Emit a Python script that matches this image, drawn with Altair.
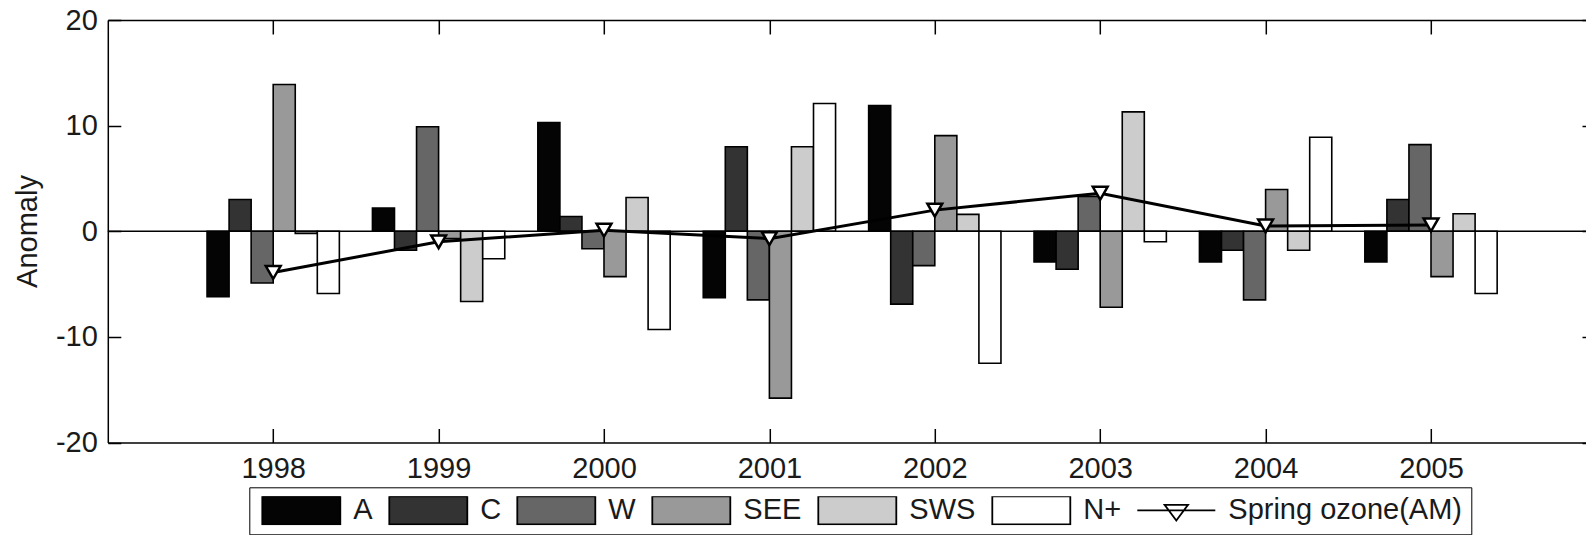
import altair as alt
import pandas as pd

# ---------------- data ----------------
years = [1998, 1999, 2000, 2001, 2002, 2003, 2004, 2005]
series_names = ["A", "C", "W", "SEE", "SWS", "N+"]
A_vals = [-6.2, 2.2, 10.3, -6.3, 11.9, -2.9, -2.9, -2.9]
C_vals = [3.0, -1.8, 1.4, 8.0, -6.9, -3.6, -1.8, 3.0]
W_vals = [-4.9, 9.9, -1.65, -6.5, -3.25, 3.3, -6.5, 8.2]
SEE_vals = [13.9, -0.7, -4.3, -15.8, 9.05, -7.2, 3.95, -4.3]
SWS_vals = [-0.2, -6.65, 3.2, 8.0, 1.6, 11.3, -1.8, 1.65]
Nplus_vals = [-5.9, -2.6, -9.3, 12.1, -12.5, -1.0, 8.9, -5.9]
ozone_label = "Spring ozone(AM)"
ozone_vals = [-3.9, -1.0, 0.1, -0.7, 2.0, 3.6, 0.5, 0.6]
y_ticks = [-20, -10, 0, 10, 20]
fill_colors = ["#040404", "#333333", "#666666", "#999999", "#cccccc", "#ffffff", "#ffffff"]

# ---------------- tables ----------------
rows = []
for idx, (name, vals) in enumerate(zip(series_names,
                                       [A_vals, C_vals, W_vals, SEE_vals, SWS_vals, Nplus_vals])):
    for yr, v in zip(years, vals):
        rows.append({"year": yr, "series": name, "idx": idx, "value": v})
bars_df = pd.DataFrame(rows)
oz_df = pd.DataFrame({"year": years, "value": ozone_vals})
zero_df = pd.DataFrame({"zero": [0]})

# ---------------- layout ----------------
FONT = "Liberation Sans, Arial, Helvetica, sans-serif"
TXT = "#1a1a1a"
PLOT_W = 1478.2
PLOT_H = 422.5
PX_PER_YEAR = 165.4
X_MIN = 1997
X_MAX = X_MIN + PLOT_W / PX_PER_YEAR
GROUP = 0.8
NS = len(series_names)

x_scale = alt.Scale(domain=[X_MIN, X_MAX], nice=False, zero=False)
y_scale = alt.Scale(domain=[-20, 20], nice=False, zero=False)

rect_path = "M-1,-0.36L1,-0.36L1,0.36L-1,0.36Z"
oz_path = "M-1,0L1,0M-0.3,-0.14L0.3,-0.14L0,0.26Z"
shape_expr = f"datum.label === '{ozone_label}' ? '{oz_path}' : '{rect_path}'"

legend = alt.Legend(
    title=None, orient="none", legendX=141.5, legendY=467.3,
    direction="horizontal", columns=7,
    symbolType=alt.ExprRef(expr=shape_expr), symbolSize=78 * 78, clipHeight=28,
    symbolOffset=3, labelOffset=12, columnPadding=12, padding=9,
    strokeColor="black", symbolStrokeColor="black", symbolStrokeWidth=1.8,
    labelFont=FONT, labelFontSize=29, labelColor=TXT, labelLimit=400,
)

plain_label = "'' + datum.value"

x_axis_bottom = alt.Axis(orient="top", offset=-PLOT_H, values=years, labelExpr=plain_label,
                         tickSize=14, labelPadding=-26, labelBaseline="top",
                         title=None, grid=False, labelFlush=False, labelOverlap=False)
x_axis_top = alt.Axis(orient="bottom", offset=-PLOT_H, values=years, tickSize=14,
                      labels=False, title=None, grid=False)
y_axis_left = alt.Axis(orient="right", offset=-PLOT_W, values=y_ticks, labelExpr=plain_label,
                       tickSize=13, labelPadding=-23.5, labelAlign="right",
                       labelBaseline="middle", labelFlush=False, labelOverlap=False,
                       grid=False, title="Anomaly", titleAngle=270, titleX=-71.8,
                       titleY=211, titleAlign="center", titleBaseline="alphabetic")
y_axis_right = alt.Axis(orient="left", offset=-PLOT_W, values=y_ticks, tickSize=4,
                        labels=False, domain=False, title=None, grid=False)

bars = alt.Chart(bars_df).transform_calculate(
    x0=f"datum.year - {GROUP / 2} + datum.idx * {GROUP} / {NS}",
    x1=f"datum.year - {GROUP / 2} + (datum.idx + 1) * {GROUP} / {NS}",
).mark_bar(stroke="black", strokeWidth=1.6, opacity=1).encode(
    x=alt.X("x0:Q", scale=x_scale, axis=x_axis_bottom),
    x2="x1:Q",
    y=alt.Y("value:Q", scale=y_scale, axis=y_axis_left),
    y2=alt.datum(0),
    fill=alt.Fill("series:N",
                  scale=alt.Scale(domain=series_names + [ozone_label], range=fill_colors),
                  legend=legend),
)

zero_rule = alt.Chart(zero_df).mark_rule(color="black", strokeWidth=1.5).encode(
    y=alt.Y("zero:Q", scale=y_scale, axis=None)
)

line = alt.Chart(oz_df).mark_line(color="black", strokeWidth=3).encode(
    x=alt.X("year:Q", scale=x_scale, axis=x_axis_top),
    y=alt.Y("value:Q", scale=y_scale, axis=y_axis_right),
)

points = alt.Chart(oz_df).mark_point(
    shape="triangle-down", filled=True, fill="white", stroke="black",
    strokeWidth=2.5, size=220, opacity=1
).encode(
    x=alt.X("year:Q", scale=x_scale, axis=None),
    y=alt.Y("value:Q", scale=y_scale, axis=None),
)

chart = alt.layer(bars, zero_rule, line, points).resolve_axis(
    x="independent", y="independent"
).properties(
    width=PLOT_W, height=PLOT_H,
    autosize=alt.AutoSizeParams(type="none"),
    padding={"left": 107.8, "top": 20, "right": 0, "bottom": 92.5},
    background="white",
).configure_view(stroke=None).configure_axis(
    domainColor="black", domainWidth=1.5, tickColor="black", tickWidth=1.5,
    labelFont=FONT, labelFontSize=29, labelColor=TXT,
    titleFont=FONT, titleFontSize=29, titleColor=TXT, titleFontWeight="normal",
)

chart.save("out.html", embed_options={"renderer": "svg", "actions": False})
